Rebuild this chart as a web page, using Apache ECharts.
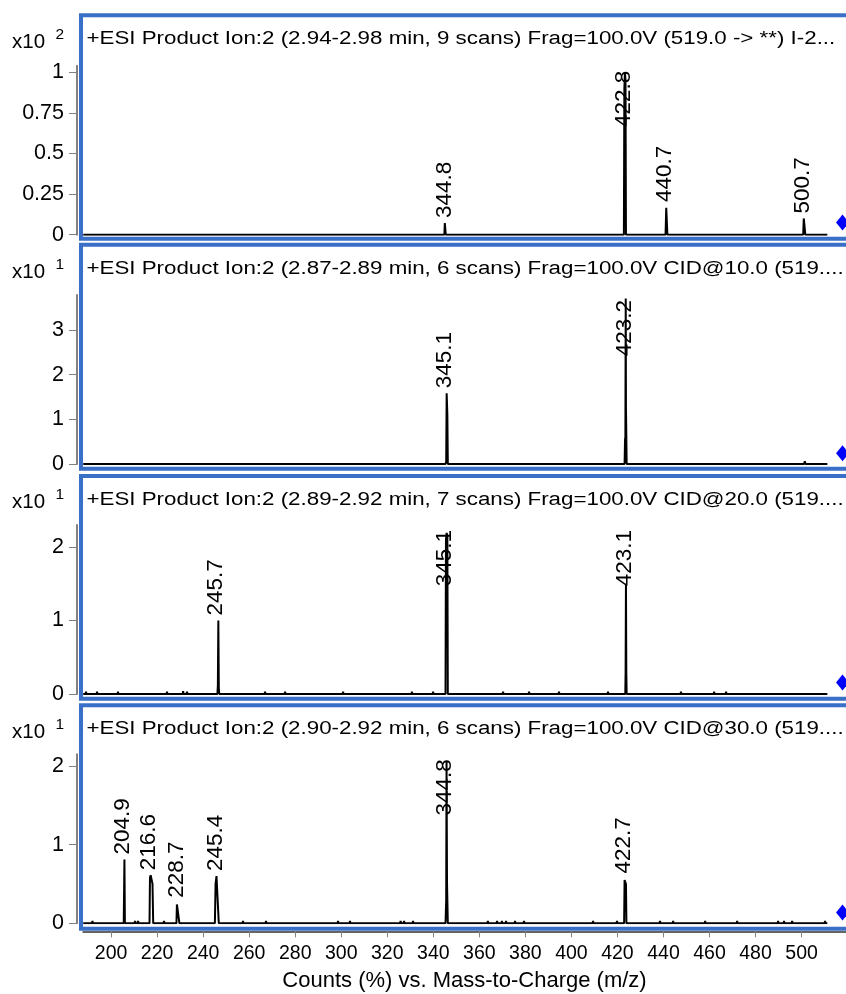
<!DOCTYPE html>
<html>
<head>
<meta charset="utf-8">
<script src="https://cdn.jsdelivr.net/npm/echarts@6/dist/echarts.min.js"></script>
<style>
html,body{margin:0;padding:0;background:#fff;}
#chart{width:846px;height:994px;}
</style>
</head>
<body>
<div id="chart"></div>
<script>
// ---------- DATA ----------
const titles = [
  "+ESI Product Ion:2 (2.94-2.98 min, 9 scans) Frag=100.0V (519.0 -> **) I-2...",
  "+ESI Product Ion:2 (2.87-2.89 min, 6 scans) Frag=100.0V CID@10.0 (519....",
  "+ESI Product Ion:2 (2.89-2.92 min, 7 scans) Frag=100.0V CID@20.0 (519....",
  "+ESI Product Ion:2 (2.90-2.92 min, 6 scans) Frag=100.0V CID@30.0 (519...."
];
const exponents = ["2", "1", "1", "1"];
const xTicks = [200,220,240,260,280,300,320,340,360,380,400,420,440,460,480,500];
const xRange = [187.8, 519.3];
const yTicks1 = [0, 0.25, 0.5, 0.75, 1];
const yTicks2 = [0, 1, 2, 3];
const yTicks3 = [0, 1, 2];
const yTicks4 = [0, 1, 2];
const yMax = [1.04, 3.78, 2.297, 2.148];

// profile spectra [m/z, counts]
const profile1 = [
  [187.9,0],
  [344.8,0],[345.0,0.072],[345.2,0.06],[345.4,0],
  [422.8,0],[423.0,0.9],[423.25,1.0],[423.5,0.95],[423.7,0],
  [440.9,0],[441.2,0.165],[441.5,0.17],[441.7,0],
  [500.7,0],[500.95,0.10],[501.3,0.05],[501.6,0],
  [511.2,0]
];
const profile2 = [
  [187.9,0],
  [345.3,0],[345.6,0.05],[345.8,1.58],[346.1,1.1],[346.3,0],
  [423.1,0],[423.3,0.55],[423.45,0.6],[423.6,3.7],[423.7,1.27],[424.0,0],
  [501.1,0],[501.4,0.06],[501.7,0],
  [511.2,0]
];
const profile3 = [
  [187.9,0],
  [188.9,0],[189.1,0.03],[189.3,0],
  [193.7,0],[193.9,0.03],[194.1,0],
  [202.8,0],[203.0,0.03],[203.2,0],
  [224.1,0],[224.3,0.03],[224.5,0],
  [231.1,0],[231.3,0.04],[231.5,0],
  [232.8,0],[233.0,0.03],[233.2,0],
  [246.2,0],[246.4,0.12],[246.6,1.0],[246.8,0.08],[247.0,0],
  [266.7,0],[266.9,0.03],[267.1,0],
  [275.4,0],[275.6,0.03],[275.8,0],
  [300.6,0],[300.8,0.03],[301.0,0],
  [330.5,0],[330.7,0.03],[330.9,0],
  [339.7,0],[339.9,0.03],[340.1,0],
  [345.3,0],[345.5,2.1],[345.8,2.19],[346.1,2.15],[346.3,0],
  [370.1,0],[370.3,0.03],[370.5,0],
  [381.4,0],[381.6,0.03],[381.8,0],
  [394.4,0],[394.6,0.03],[394.8,0],
  [415.7,0],[415.9,0.03],[416.1,0],
  [423.4,0],[423.55,0.3],[423.7,1.5],[423.85,0.3],[424.0,0],
  [447.4,0],[447.6,0.03],[447.8,0],
  [461.8,0],[462.0,0.03],[462.2,0],
  [467.0,0],[467.2,0.03],[467.4,0],
  [511.2,0]
];
const profile4 = [
  [187.9,0],
  [191.7,0],[191.9,0.03],[192.1,0],
  [205.5,0],[205.8,0.81],[206.0,0],
  [210.2,0],[210.4,0.03],[210.6,0],
  [211.5,0],[211.7,0.03],[211.9,0],
  [216.7,0],[216.9,0.58],[217.2,0.61],[217.6,0.6],[218.0,0.5],[218.3,0],
  [222.8,0],[223.0,0.03],[223.2,0],
  [228.4,0],[228.6,0.24],[228.9,0.26],[229.3,0.22],[229.7,0],
  [245.1,0],[245.4,0.5],[245.8,0.6],[246.3,0.58],[246.8,0],
  [257.1,0],[257.3,0.03],[257.5,0],
  [267.1,0],[267.3,0.03],[267.5,0],
  [298.4,0],[298.6,0.03],[298.8,0],
  [303.6,0],[303.8,0.03],[304.0,0],
  [325.6,0],[325.8,0.03],[326.0,0],
  [327.1,0],[327.3,0.03],[327.5,0],
  [331.0,0],[331.2,0.03],[331.4,0],
  [345.3,0],[345.6,0.3],[345.75,2.05],[345.95,0.53],[346.3,0],
  [363.5,0],[363.7,0.03],[363.9,0],
  [367.5,0],[367.7,0.03],[367.9,0],
  [369.6,0],[369.8,0.03],[370.0,0],
  [371.4,0],[371.6,0.03],[371.8,0],
  [375.3,0],[375.5,0.03],[375.7,0],
  [379.2,0],[379.4,0.03],[379.6,0],
  [409.2,0],[409.4,0.03],[409.6,0],
  [419.6,0],[419.8,0.03],[420.0,0],
  [422.9,0],[423.1,0.55],[423.4,0.57],[423.7,0.5],[423.9,0],
  [438.3,0],[438.5,0.03],[438.7,0],
  [444.0,0],[444.2,0.03],[444.4,0],
  [457.9,0],[458.1,0.03],[458.3,0],
  [471.8,0],[472.0,0.03],[472.2,0],
  [489.6,0],[489.8,0.03],[490.0,0],
  [492.2,0],[492.4,0.03],[492.6,0],
  [495.7,0],[495.9,0.03],[496.1,0],
  [510.0,0],[510.2,0.03],[510.4,0],
  [511.2,0]
];

// annotated peaks [m/z label, apex height]
const peaks1 = [[344.8,0.072],[422.8,1.0],[440.7,0.17],[500.7,0.10]];
const peaks2 = [[345.1,1.58],[423.2,3.7]];
const peaks3 = [[245.7,1.0],[345.1,2.19],[423.1,1.5]];
const peaks4 = [[204.9,0.81],[216.6,0.61],[228.7,0.26],[245.4,0.60],[344.8,2.05],[422.7,0.57]];

// precursor marker (blue diamond)
const precursor = [[517.8,0.075],[517.8,0.24],[517.8,0.155],[517.8,0.137]];

// ---------- LAYOUT / STYLE ----------
const FONT = '"Liberation Sans", Arial, Helvetica, sans-serif';
const BLUE = '#3a6fc7';
const zeroY = [234.7, 464, 694, 923.3];
const gridH = 169;
const frameTop = [15.3, 244.7, 476, 705.3];
const frameBot = [238.7, 468.7, 698.7, 928.7];
const titleY = [39.3, 268.7, 500, 729.3];
const expY = [42, 272, 502, 732];

const profiles = [profile1, profile2, profile3, profile4];
const peaks = [peaks1, peaks2, peaks3, peaks4];
const yTicks = [yTicks1, yTicks2, yTicks3, yTicks4];

const measureCtx = document.createElement('canvas').getContext('2d');
const LABEL_FONT = '22.5px ' + FONT;
measureCtx.font = LABEL_FONT;

const grids = [], xAxes = [], yAxes = [], series = [], graphics = [];
for (let i = 0; i < 4; i++) {
  grids.push({ left: 83, right: 0, top: zeroY[i] - gridH, height: gridH, containLabel: false });
  const isLast = i === 3;
  xAxes.push({
    type: 'value', gridIndex: i, min: xRange[0], max: xRange[1],
    show: true,
    offset: isLast ? 8 : 0,
    axisLine: { show: isLast, onZero: false, lineStyle: { color: '#333', width: 1.5 } },
    axisTick: { show: isLast, length: 6, customValues: xTicks, lineStyle: { color: '#808080', width: 1 } },
    axisLabel: { show: isLast, customValues: xTicks, margin: 12, color: '#000', fontSize: 19.5, fontFamily: FONT },
    splitLine: { show: false },
    name: isLast ? 'Counts (%) vs. Mass-to-Charge (m/z)' : '',
    nameLocation: 'middle', nameGap: 39,
    nameTextStyle: { color: '#000', fontSize: 22, fontFamily: FONT }
  });
  yAxes.push({
    type: 'value', gridIndex: i, min: 0, max: yMax[i],
    offset: 6,
    axisLine: { show: true, lineStyle: { color: '#808080', width: 2 } },
    axisTick: { show: true, length: 8, customValues: yTicks[i], lineStyle: { color: '#808080', width: 1 } },
    axisLabel: { customValues: yTicks[i], margin: 13, color: '#000', fontSize: 21.5, fontFamily: FONT },
    splitLine: { show: false }
  });
  series.push({
    type: 'line', xAxisIndex: i, yAxisIndex: i, data: profiles[i],
    showSymbol: false, symbol: 'none', smooth: false,
    lineStyle: { color: '#000', width: 2 }, z: 3, animation: false
  });
  series.push({
    type: 'custom', xAxisIndex: i, yAxisIndex: i, data: peaks[i], clip: false, z: 4,
    animation: false, silent: true,
    renderItem: function (params, api) {
      const mz = api.value(0), h = api.value(1);
      const c = api.coord([mz, h]);
      const txt = mz.toFixed(1);
      const w = measureCtx.measureText(txt).width;
      const gTop = params.coordSys.y;
      const oy = Math.max(c[1] - 5, gTop + 5 + w);
      return {
        type: 'text', x: c[0], y: oy, rotation: Math.PI / 2,
        style: { text: txt, font: LABEL_FONT, fill: '#000',
                 textAlign: 'left', textVerticalAlign: 'middle', align: 'left', verticalAlign: 'middle' }
      };
    }
  });
  series.push({
    type: 'scatter', xAxisIndex: i, yAxisIndex: i, data: [precursor[i]],
    symbol: 'diamond', symbolSize: [13, 16], itemStyle: { color: '#0000ff', opacity: 1 },
    z: 5, animation: false, silent: true, clip: false
  });

  graphics.push({
    type: 'rect', silent: true, z: 0,
    shape: { x: 81, y: frameTop[i], width: 820, height: frameBot[i] - frameTop[i] },
    style: { fill: 'none', stroke: BLUE, lineWidth: 4 }
  });
  graphics.push({
    type: 'text', silent: true, x: 86.5, y: titleY[i], scaleX: 1.24, z: 10,
    style: { text: titles[i], font: '18px ' + FONT, fill: '#000',
             textAlign: 'left', textVerticalAlign: 'middle', align: 'left', verticalAlign: 'middle' }
  });
  graphics.push({
    type: 'text', silent: true, x: 12, y: expY[i], z: 10,
    style: { text: 'x10', font: '20.5px ' + FONT, fill: '#000',
             textAlign: 'left', textVerticalAlign: 'middle', align: 'left', verticalAlign: 'middle' }
  });
  graphics.push({
    type: 'text', silent: true, x: 55.5, y: expY[i] - 7, z: 10,
    style: { text: exponents[i], font: '15.5px ' + FONT, fill: '#000',
             textAlign: 'left', textVerticalAlign: 'middle', align: 'left', verticalAlign: 'middle' }
  });
}

const chart = echarts.init(document.getElementById('chart'), null, { renderer: 'canvas' });
chart.setOption({
  animation: false,
  backgroundColor: '#ffffff',
  grid: grids,
  xAxis: xAxes,
  yAxis: yAxes,
  series: series,
  graphic: { elements: graphics }
});
</script>
</body>
</html>
